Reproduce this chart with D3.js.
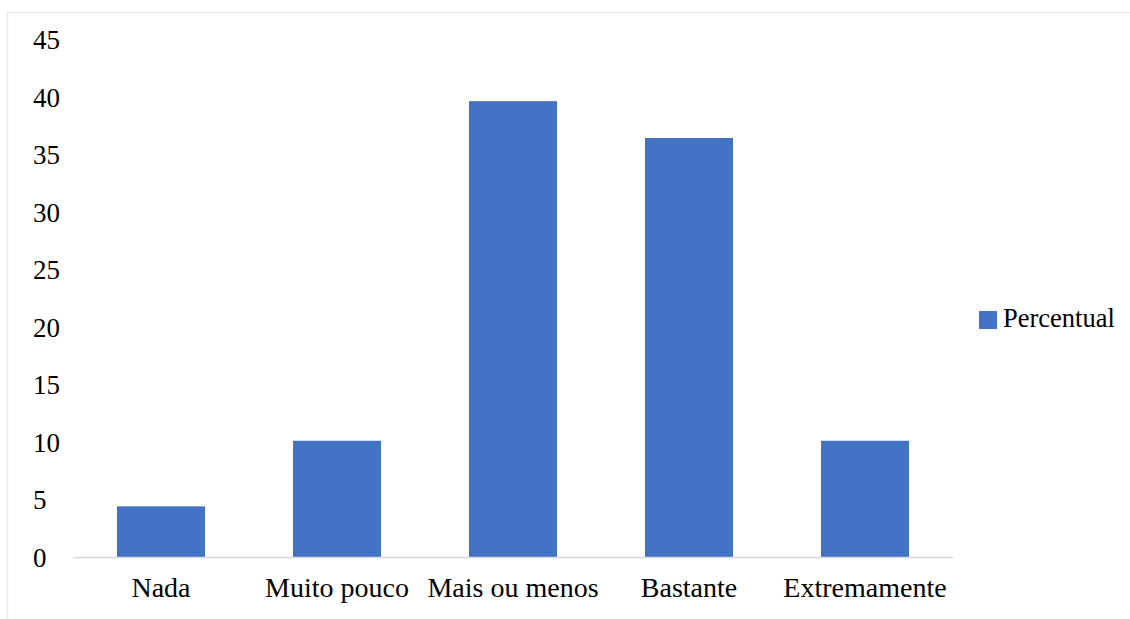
<!DOCTYPE html>
<html>
<head>
<meta charset="utf-8">
<script src="https://cdn.jsdelivr.net/npm/d3@7/dist/d3.min.js"></script>
</head>
<body style="margin:0">
<div id="chart"></div>
<script>
// Chart data
const categories = ['Nada', 'Muito pouco', 'Mais ou menos', 'Bastante', 'Extremamente'];
const values = [4.4, 10.1, 39.6, 36.4, 10.1];
const yTicks = [0, 5, 10, 15, 20, 25, 30, 35, 40, 45];
const seriesName = 'Percentual';

function draw() {
    const dimensions = {
        width: 1130,
        height: 619,
        left: 73,
        right: 953,
        top: 39,
        bottom: 557
    }
    const serif = () => '"Liberation Serif"';

    const data = categories.map((c, i) => ({ category: c, value: values[i] }));

    // Scales
    const xScale = d3.scaleBand()
        .domain(categories)
        .range([dimensions.left, dimensions.right])
        .paddingInner(0.5)
        .paddingOuter(0.25)

    const yScale = d3.scaleLinear()
        .domain([0, 45])
        .range([dimensions.bottom, dimensions.top])

    const svg = d3.select('#chart')
        .append('svg')
        .attr('width', dimensions.width)
        .attr('height', dimensions.height);

    // chart area border (top & left visible)
    svg.append('path')
        .attr('d', `M7.5,${dimensions.height} V12.5 H${dimensions.width}`)
        .attr('fill', 'none')
        .attr('stroke', '#ebebeb')
        .attr('stroke-width', 1.5)

    // y tick labels
    svg.append('g')
        .selectAll('text')
        .data(yTicks)
        .join('text')
        .attr('x', 33)
        .attr('y', d => yScale(d) + 10)
        .attr('font-size', 27)
        .style('font-family', serif)
        .text(d => d)

    // bars
    svg.append('g')
        .selectAll('rect')
        .data(data)
        .join('rect')
        .attr('x', d => xScale(d.category))
        .attr('y', d => yScale(d.value))
        .attr('width', xScale.bandwidth())
        .attr('height', d => yScale(0) - yScale(d.value))
        .attr('fill', '#4472C4')

    // baseline
    svg.append('line')
        .attr('x1', dimensions.left)
        .attr('x2', dimensions.right)
        .attr('y1', yScale(0) + 0.5)
        .attr('y2', yScale(0) + 0.5)
        .attr('stroke', '#d9d9d9')
        .attr('stroke-width', 1.5)

    // x labels
    svg.append('g')
        .selectAll('text')
        .data(categories)
        .join('text')
        .attr('x', d => xScale(d) + xScale.bandwidth() / 2)
        .attr('y', 597)
        .attr('text-anchor', 'middle')
        .attr('font-size', 28)
        .style('font-family', serif)
        .text(d => d)

    // legend
    const legend = svg.append('g')
        .attr('transform', 'translate(979, 311)')

    legend.append('rect')
        .attr('width', 18)
        .attr('height', 18)
        .attr('fill', '#4472C4')

    legend.append('text')
        .attr('x', 24)
        .attr('y', 16)
        .attr('font-size', 26.5)
        .style('font-family', serif)
        .text(seriesName)
}

draw();
</script>
</body>
</html>
